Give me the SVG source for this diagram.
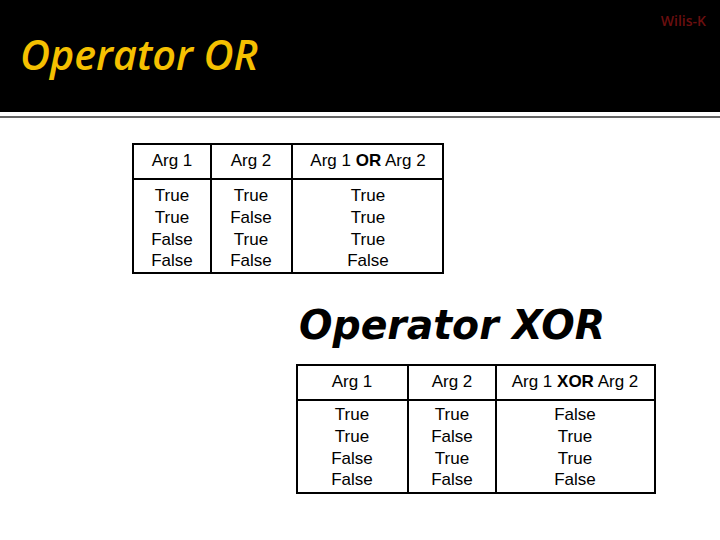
<svg xmlns="http://www.w3.org/2000/svg" width="720" height="540" viewBox="0 0 720 540">
<style>
.t{font-family:"Liberation Sans",Arial,sans-serif;font-size:17px;fill:#000;text-anchor:middle}
.b{font-weight:bold}
.g{fill:none;stroke:#000;stroke-width:2}
</style>
<rect width="720" height="540" fill="#fff"/>
<g id="header">
<rect x="0" y="0" width="720" height="112" fill="#000"/>
<line x1="0" y1="117" x2="720" y2="117" stroke="#666" stroke-width="2"/>
<text x="20" y="70" font-family="'Open Sans','DejaVu Sans',sans-serif" font-style="italic" font-weight="600" font-size="41" fill="#f5c000" textLength="238" lengthAdjust="spacingAndGlyphs">Operator OR</text>
<text x="706" y="26" text-anchor="end" font-family="'Open Sans','DejaVu Sans',sans-serif" font-weight="600" font-size="14" fill="#6b0f0f">Wilis-K</text>
</g>
<g id="or-table">
<rect class="g" x="133" y="144" width="310" height="129"/>
<line class="g" x1="211" y1="144" x2="211" y2="273"/>
<line class="g" x1="292" y1="144" x2="292" y2="273"/>
<line class="g" x1="133" y1="179" x2="443" y2="179"/>
<text class="t" x="172" y="166">Arg 1</text>
<text class="t" x="251" y="166">Arg 2</text>
<text class="t" x="368" y="166">Arg 1 <tspan class="b">OR</tspan> Arg 2</text>
<text class="t" x="172" y="201">True</text><text class="t" x="172" y="223">True</text><text class="t" x="172" y="245">False</text><text class="t" x="172" y="266">False</text>
<text class="t" x="251" y="201">True</text><text class="t" x="251" y="223">False</text><text class="t" x="251" y="245">True</text><text class="t" x="251" y="266">False</text>
<text class="t" x="368" y="201">True</text><text class="t" x="368" y="223">True</text><text class="t" x="368" y="245">True</text><text class="t" x="368" y="266">False</text>
</g>
<g id="xor-title">
<text x="299" y="339" font-family="'DejaVu Sans',sans-serif" font-style="italic" font-weight="bold" font-size="40" fill="#000" textLength="306" lengthAdjust="spacingAndGlyphs">Operator XOR</text>
</g>
<g id="xor-table">
<rect class="g" x="297" y="365" width="358" height="128"/>
<line class="g" x1="408" y1="365" x2="408" y2="493"/>
<line class="g" x1="496" y1="365" x2="496" y2="493"/>
<line class="g" x1="297" y1="400" x2="655" y2="400"/>
<text class="t" x="352" y="387">Arg 1</text>
<text class="t" x="452" y="387">Arg 2</text>
<text class="t" x="575" y="387">Arg 1 <tspan class="b">XOR</tspan> Arg 2</text>
<text class="t" x="352" y="420">True</text><text class="t" x="352" y="442">True</text><text class="t" x="352" y="464">False</text><text class="t" x="352" y="485">False</text>
<text class="t" x="452" y="420">True</text><text class="t" x="452" y="442">False</text><text class="t" x="452" y="464">True</text><text class="t" x="452" y="485">False</text>
<text class="t" x="575" y="420">False</text><text class="t" x="575" y="442">True</text><text class="t" x="575" y="464">True</text><text class="t" x="575" y="485">False</text>
</g>
</svg>
